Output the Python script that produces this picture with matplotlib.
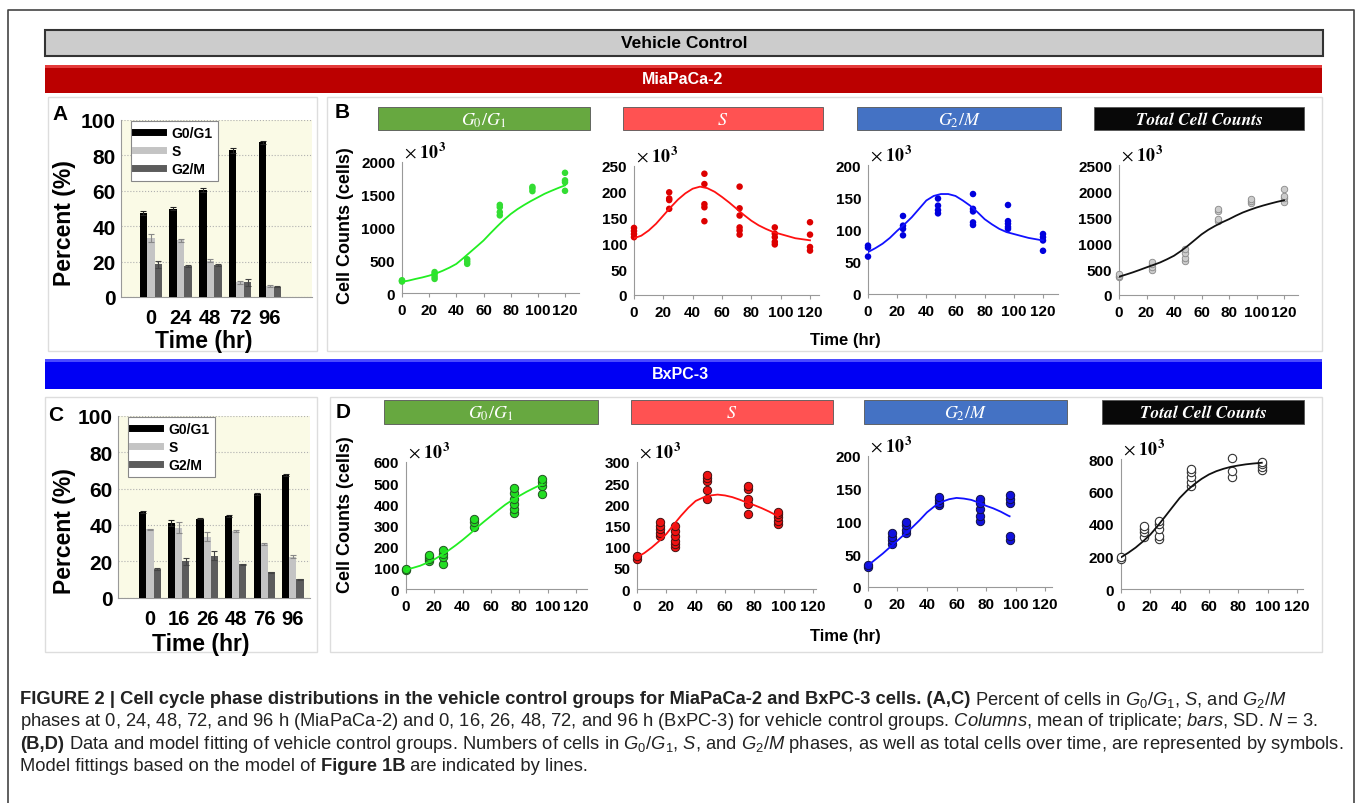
import numpy as np
import matplotlib
matplotlib.use("Agg")
import matplotlib.pyplot as plt
from matplotlib.patches import Rectangle
from matplotlib.lines import Line2D

plt.rcParams['font.family'] = ['Liberation Sans', 'DejaVu Sans']
plt.rcParams['mathtext.fontset'] = 'custom'
plt.rcParams['mathtext.rm'] = 'Liberation Sans'
plt.rcParams['mathtext.it'] = 'Liberation Sans:italic'
plt.rcParams['mathtext.bf'] = 'Liberation Sans:bold'

# ---- bar data (percent of cells, mean and SD) ----
mia_bar_labels = ['0', '24', '48', '72', '96']
mia_g0g1 = [47.5, 50.0, 60.5, 82.8, 87.3]
mia_g0g1_sd = [1.0, 1.0, 1.0, 1.5, 0.7]
mia_s = [33.3, 32.0, 20.6, 8.3, 6.4]
mia_s_sd = [2.5, 0.7, 1.0, 1.0, 0.5]
mia_g2m = [18.6, 17.4, 18.2, 8.4, 5.9]
mia_g2m_sd = [2.0, 0.5, 0.5, 2.0, 0.3]

bx_bar_labels = ['0', '16', '26', '48', '76', '96']
bx_g0g1 = [47.0, 41.0, 43.5, 45.0, 57.0, 67.5]
bx_g0g1_sd = [0.5, 1.5, 0.5, 0.5, 0.5, 0.7]
bx_s = [37.5, 38.5, 33.5, 36.5, 29.5, 22.5]
bx_s_sd = [0.5, 3.0, 2.5, 0.5, 0.7, 0.7]
bx_g2m = [15.5, 20.0, 23.0, 18.3, 14.0, 10.0]
bx_g2m_sd = [0.5, 2.0, 2.5, 0.3, 0.3, 0.3]

# ---- cell counts (x10^3), replicate symbols per time point ----
mia_times = [0, 24, 48, 72, 96, 120]
mia_g0g1_pts = [[175, 185, 195], [215, 250, 290, 320], [445, 480, 515],
                [1185, 1235, 1310, 1345], [1555, 1595, 1620], [1560, 1690, 1720, 1835]]
mia_s_pts = [[112, 118, 124, 130], [167, 184, 187, 199], [143, 170, 176, 215, 235],
             [117, 125, 131, 154, 168, 210], [98, 103, 112, 119, 131], [86, 93, 117, 141]]
mia_g2m_pts = [[58, 72, 75], [91, 101, 106, 121], [125, 130, 137, 148],
               [107, 111, 128, 132, 155], [101, 104, 109, 113, 138], [67, 83, 88, 93]]
mia_tot_pts = [[350, 370, 400], [480, 530, 595, 640], [660, 720, 800, 880],
               [1425, 1460, 1620, 1650], [1760, 1810, 1850], [1780, 1870, 1900, 2030]]

bx_times = [0, 16, 26, 48, 76, 96]
bx_g0g1_pts = [[89, 94], [130, 140, 150, 160], [120, 150, 165, 185], [295, 315, 330],
               [360, 378, 400, 425, 455, 475], [450, 485, 505, 520]]
bx_s_pts = [[71, 77], [125, 133, 141, 148, 158], [100, 106, 114, 125, 137, 148],
            [212, 235, 255, 262, 270], [178, 200, 212, 237, 243], [153, 161, 169, 176, 182]]
bx_g2m_pts = [[30, 34], [66, 71, 76, 82], [83, 87, 94, 100], [125, 129, 133, 137],
              [101, 109, 119, 128, 134], [72, 78, 128, 134, 140]]
bx_tot_pts = [[185, 195], [318, 350, 370, 390], [308, 328, 370, 400, 420],
              [636, 656, 687, 718, 738], [687, 728, 804], [732, 749, 769, 783]]

# ---- model fit lines (every 5 h) ----
mia_fit_t = [0, 5, 10, 15, 20, 25, 30, 35, 40, 45, 50, 55, 60,
             65, 70, 75, 80, 85, 90, 95, 100, 105, 110, 115, 120]
mia_g0g1_fit = [170, 190, 215, 238, 265, 298, 340, 388, 444, 530, 620, 710, 801,
                910, 1015, 1115, 1205, 1280, 1345, 1405, 1460, 1515, 1560, 1603, 1643]
mia_s_fit = [110, 115, 125, 138, 154, 170, 185, 197, 206, 210, 207, 200, 190,
             179, 167, 155, 144, 135, 128, 122, 118, 114, 110, 108, 106]
mia_g2m_fit = [65, 71, 78, 87, 98, 108, 119, 132, 145, 152, 155, 155, 152,
               145, 137, 127, 116, 108, 101, 96, 93, 90, 87, 85, 83]
mia_tot_fit = [352, 392, 435, 482, 531, 578, 627, 688, 755, 845, 946, 1055, 1165,
               1255, 1330, 1398, 1458, 1525, 1586, 1636, 1682, 1722, 1758, 1792, 1822]

bx_fit_t = [0, 5, 10, 15, 20, 25, 30, 35, 40, 45, 50,
            55, 60, 65, 70, 75, 80, 85, 90, 95, 96]
bx_g0g1_fit = [92, 100, 110, 124, 140, 160, 182, 206, 232, 260, 290,
               318, 345, 372, 398, 420, 440, 459, 476, 492, 495]
bx_s_fit = [75, 85, 98, 113, 130, 152, 173, 192, 208, 216, 221,
            223, 221, 217, 211, 204, 198, 191, 183, 174, 172]
bx_g2m_fit = [33, 42, 51, 61, 71, 81, 91, 102, 114, 123, 130,
              134, 136, 135, 133, 129, 124, 120, 115, 109, 108]
bx_tot_fit = [195, 223, 255, 293, 335, 388, 445, 503, 560, 606, 645,
              678, 705, 725, 740, 752, 760, 767, 772, 776, 777]

W, H = 1357, 804
fig = plt.figure(figsize=(W / 100, H / 100), dpi=100)
bg = fig.add_axes([0, 0, 1, 1])
bg.set_xlim(0, W)
bg.set_ylim(H, 0)
bg.axis('off')


def rect_px(x0, y0, x1, y1):
    return [x0 / W, 1 - y1 / H, (x1 - x0) / W, (y1 - y0) / H]


def box(x0, y0, x1, y1, **kw):
    bg.add_patch(Rectangle((x0, y0), x1 - x0, y1 - y0, **kw))


# outer frame
bg.plot([8, 8, 1354, 1354], [H, 11, 11, H], color='#444444', lw=1.2)

# header bars
box(45, 31, 1323, 57, facecolor='#cccccc', edgecolor='#333333', lw=1.5)
bg.text(684, 44, 'Vehicle Control', ha='center', va='center', fontsize=12.5, fontweight='bold')
box(45, 66, 1322, 94, facecolor='#bb0000', edgecolor='none')
box(45, 66, 1322, 69, facecolor='#e43a3a', edgecolor='none')
bg.text(683, 80, 'MiaPaCa-2', ha='center', va='center', fontsize=11.5, fontweight='bold', color='white')
box(45, 360, 1322, 390, facecolor='#0000f4', edgecolor='none')
box(45, 360, 1322, 363, facecolor='#4a4aff', edgecolor='none')
bg.text(680, 375, 'BxPC-3', ha='center', va='center', fontsize=11.5, fontweight='bold', color='white')

# panel boxes
for x0, y0, x1, y1 in [(48, 98, 317, 352), (327, 98, 1322, 352),
                       (45, 398, 317, 653), (330, 398, 1322, 653)]:
    box(x0, y0, x1, y1, facecolor='white', edgecolor='#dddddd', lw=1)

# panel letters
for lab, x, y in [('A', 60, 115), ('B', 342, 113), ('C', 56, 416), ('D', 343, 413)]:
    bg.text(x, y, lab, ha='center', va='center', fontsize=15, fontweight='bold')

# phase title bars
title_specs = [
    (r'$G_0/G_1$', '#67a840'), (r'$S$', '#ff5252'),
    (r'$G_2/M$', '#4472c4'), ('Total Cell Counts', '#080808'),
]
row_b = [(378, 590), (623, 823), (857, 1061), (1094, 1304)]
row_d = [(384, 598), (631, 833), (864, 1067), (1102, 1304)]
for row, (ya, yb) in [(row_b, (108, 131)), (row_d, (401, 425))]:
    for (xa, xb), (txt, col) in zip(row, title_specs):
        box(xa, ya, xb, yb, facecolor=col, edgecolor='#555555', lw=0.6)
        if txt.startswith('$'):
            bg.text((xa + xb) / 2, (ya + yb) / 2 + 1, txt, ha='center', va='center',
                    fontsize=13, color='white', math_fontfamily='stix')
        else:
            bg.text((xa + xb) / 2, (ya + yb) / 2 + 1, txt, ha='center', va='center',
                    fontsize=12.5, color='white', family='STIXGeneral',
                    style='italic', fontweight='bold')


def bar_panel(rect, labels, g1, g1sd, s, ssd, g2, g2sd, xlim):
    ax = fig.add_axes(rect)
    ax.set_facecolor('#fafae6')
    x = np.arange(len(labels))
    w = 0.25
    ax.bar(x - w, g1, w, yerr=g1sd, color='black', capsize=2,
           error_kw=dict(lw=0.8, ecolor='#222222', capthick=0.8), zorder=3)
    ax.bar(x, s, w, yerr=ssd, color='#c4c4c4', capsize=2,
           error_kw=dict(lw=0.8, ecolor='#888888', capthick=0.8), zorder=3)
    ax.bar(x + w, g2, w, yerr=g2sd, color='#5c5c5c', capsize=2,
           error_kw=dict(lw=0.8, ecolor='#444444', capthick=0.8), zorder=3)
    ax.set_xlim(*xlim)
    ax.set_ylim(0, 100)
    ax.set_yticks(range(0, 101, 20))
    ax.yaxis.grid(True, ls=':', color='#b0b0b0', lw=0.8)
    ax.set_axisbelow(True)
    ax.set_xticks(x, labels)
    for sp in ['top', 'right']:
        ax.spines[sp].set_visible(False)
    for sp in ['left', 'bottom']:
        ax.spines[sp].set_color('#999999')
        ax.spines[sp].set_linewidth(0.8)
    ax.tick_params(axis='y', length=0, labelsize=15, pad=4)
    ax.tick_params(axis='x', length=0, labelsize=14.5, pad=8)
    for t in ax.get_xticklabels() + ax.get_yticklabels():
        t.set_fontweight('bold')
    handles = [Line2D([], [], color='black', lw=5),
               Line2D([], [], color='#c4c4c4', lw=5),
               Line2D([], [], color='#5c5c5c', lw=5)]
    leg = ax.legend(handles, ['G0/G1', 'S', 'G2/M'], loc='upper left',
                    bbox_to_anchor=(0.05, 0.995), borderaxespad=0,
                    prop={'weight': 'bold', 'size': 10},
                    fancybox=False, edgecolor='#888888', framealpha=1,
                    borderpad=0.35, labelspacing=0.3, handlelength=2.0, handletextpad=0.6)
    leg.get_frame().set_linewidth(0.8)
    return ax


bar_panel(rect_px(121, 121, 312, 298), mia_bar_labels, mia_g0g1, mia_g0g1_sd,
          mia_s, mia_s_sd, mia_g2m, mia_g2m_sd, (-1.0, 5.41))
bar_panel(rect_px(118, 417, 310, 598.5), bx_bar_labels, bx_g0g1, bx_g0g1_sd,
          bx_s, bx_s_sd, bx_g2m, bx_g2m_sd, (-1.12, 5.6))

for y in (223, 531):
    bg.text(64, y, 'Percent (%)', rotation=90, ha='center', va='center',
            fontsize=16.5, fontweight='bold')
bg.text(204, 342, 'Time (hr)', ha='center', va='center', fontsize=16.5, fontweight='bold')
bg.text(201, 645, 'Time (hr)', ha='center', va='center', fontsize=16.5, fontweight='bold')


def scatter_panel(x0, x120, y0, ytop, xmax, ymax, ystep, times, pts, fit_t, fit_y,
                  face, edge, line, size, lw_edge):
    xr = x0 + (x120 - x0) / 120 * xmax
    ax = fig.add_axes(rect_px(x0, ytop, xr, y0))
    ax.patch.set_alpha(0)
    for t, vals in zip(times, pts):
        ax.scatter([t] * len(vals), vals, s=size, c=face, edgecolors=edge,
                   linewidths=lw_edge, zorder=3, clip_on=False)
    ax.plot(fit_t, fit_y, color=line, lw=1.3, zorder=4)
    ax.set_xlim(0, xmax)
    ax.set_ylim(0, ymax)
    ax.set_xticks(range(0, 121, 20))
    ax.set_yticks(np.arange(0, ymax + 1, ystep))
    for sp in ['top', 'right']:
        ax.spines[sp].set_visible(False)
    for sp in ['left', 'bottom']:
        ax.spines[sp].set_color('#999999')
        ax.spines[sp].set_linewidth(0.8)
    ax.tick_params(axis='x', length=3, color='#999999', labelsize=11, pad=4)
    ax.tick_params(axis='y', length=0, labelsize=11, pad=5)
    for t in ax.get_xticklabels() + ax.get_yticklabels():
        t.set_fontweight('bold')
    bg.text(x0 + 2, ytop - 11, r'$\times\ \mathbf{10^3}$', ha='left', va='center',
            fontsize=13, math_fontfamily='stix')
    return ax


# MiaPaCa-2 counts
scatter_panel(402, 565, 294, 163, 130, 2000, 500, mia_times, mia_g0g1_pts,
              mia_fit_t, mia_g0g1_fit, '#33dd33', 'none', '#22ee22', 22, 0)
scatter_panel(634, 810, 296, 167, 126, 250, 50, mia_times, mia_s_pts,
              mia_fit_t, mia_s_fit, '#dd0000', 'none', '#ff1111', 22, 0)
scatter_panel(868, 1043, 295, 166, 130, 200, 50, mia_times, mia_g2m_pts,
              mia_fit_t, mia_g2m_fit, '#0000dd', 'none', '#1111ff', 22, 0)
scatter_panel(1119, 1284, 296, 166, 130, 2500, 500, mia_times, mia_tot_pts,
              mia_fit_t, mia_tot_fit, '#cccccc', '#888888', '#111111', 22, 0.6)

# BxPC-3 counts
scatter_panel(406, 576, 590, 463, 128, 600, 100, bx_times, bx_g0g1_pts,
              bx_fit_t, bx_g0g1_fit, '#22dd22', '#225522', '#22ee22', 36, 0.7)
scatter_panel(637, 813, 590, 463, 122, 300, 50, bx_times, bx_s_pts,
              bx_fit_t, bx_s_fit, '#ee1111', '#441111', '#ff1111', 36, 0.7)
scatter_panel(868, 1045, 588, 457, 125, 200, 50, bx_times, bx_g2m_pts,
              bx_fit_t, bx_g2m_fit, '#1111dd', '#111144', '#1111ff', 36, 0.7)
scatter_panel(1121, 1297, 590, 460, 124, 800, 200, bx_times, bx_tot_pts,
              bx_fit_t, bx_tot_fit, 'white', '#333333', '#111111', 36, 0.8)

for y in (226, 515):
    bg.text(345, y, 'Cell Counts (cells)', rotation=90, ha='center', va='center',
            fontsize=13, fontweight='bold')
bg.text(845, 341, 'Time (hr)', ha='center', va='center', fontsize=12, fontweight='bold')
bg.text(845, 637, 'Time (hr)', ha='center', va='center', fontsize=12, fontweight='bold')

# caption, written as runs of bold / regular text
renderer = fig.canvas.get_renderer()
cap_size = 13.2


def caption_line(y, runs, x=20):
    for txt, weight in runs:
        t = bg.text(x, y, txt, ha='left', va='center', fontsize=cap_size,
                    fontweight=weight, color='#222222')
        x += t.get_window_extent(renderer).width


caption_line(700, [('FIGURE 2 | Cell cycle phase distributions in the vehicle control groups '
                    'for MiaPaCa-2 and BxPC-3 cells. (A,C)', 'bold'),
                   (r' Percent of cells in $G_0/G_1$, $S$, and $G_2/M$', 'normal')])
caption_line(722, [(r'phases at 0, 24, 48, 72, and 96 h (MiaPaCa-2) and 0, 16, 26, 48, 72, and '
                    r'96 h (BxPC-3) for vehicle control groups. $\mathit{Columns}$, mean of '
                    r'triplicate; $\mathit{bars}$, SD. $N$ = 3.', 'normal')])
caption_line(745, [('(B,D)', 'bold'),
                   (r' Data and model fitting of vehicle control groups. Numbers of cells in '
                    r'$G_0/G_1$, $S$, and $G_2/M$ phases, as well as total cells over time, '
                    r'are represented by symbols.', 'normal')])
caption_line(767, [('Model fittings based on the model of ', 'normal'),
                   ('Figure 1B', 'bold'), (' are indicated by lines.', 'normal')])

fig.savefig('out.png', dpi=100)
